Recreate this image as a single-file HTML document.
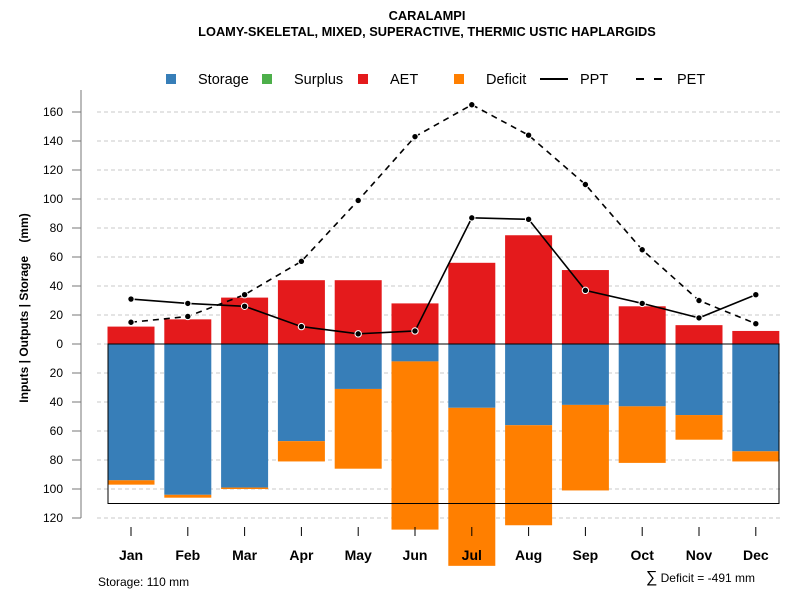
<!DOCTYPE html>
<html><head><meta charset="utf-8"><style>
body{margin:0;background:#fff}
svg{display:block;font-family:"Liberation Sans",Arial,sans-serif}
</style></head><body>
<svg id="c" width="800" height="600">
<text x="427" y="20" text-anchor="middle" font-size="12.8" font-weight="bold">CARALAMPI</text>
<text x="427" y="36" text-anchor="middle" font-size="12.8" font-weight="bold">LOAMY-SKELETAL, MIXED, SUPERACTIVE, THERMIC USTIC HAPLARGIDS</text>
<g id="legend" font-size="14.5">
<rect x="166" y="74" width="10" height="10" fill="#377eb8"/>
<text x="198" y="84">Storage</text>
<rect x="262" y="74" width="10" height="10" fill="#4daf4a"/>
<text x="294" y="84">Surplus</text>
<rect x="358" y="74" width="10" height="10" fill="#e41a1c"/>
<text x="390" y="84">AET</text>
<rect x="454" y="74" width="10" height="10" fill="#ff7f00"/>
<text x="486" y="84">Deficit</text>
<line x1="540" y1="79" x2="568" y2="79" stroke="#000" stroke-width="2"/>
<text x="580" y="84">PPT</text>
<line x1="636" y1="79" x2="662" y2="79" stroke="#000" stroke-width="2" stroke-dasharray="8,10"/>
<text x="677" y="84">PET</text>
</g>
<text transform="translate(28,308) rotate(-90)" text-anchor="middle" font-size="12" font-weight="bold">Inputs | Outputs | Storage &#160;&#160;&#160;(mm)</text>
<text x="98" y="586" font-size="12">Storage: 110 mm</text>
<text x="755" y="582" text-anchor="end" font-size="12"><tspan font-size="16">∑</tspan> Deficit = -491 mm</text>
</svg>
<script>
const months=["Jan","Feb","Mar","Apr","May","Jun","Jul","Aug","Sep","Oct","Nov","Dec"];
const aet=[12,17,32,44,44,28,56,75,51,26,13,9];
const storage=[94,104,99,67,31,12,44,56,42,43,49,74];
const deficit=[3,2,1,14,55,116,109,69,59,39,17,7];
const ppt=[31,28,26,12,7,9,87,86,37,28,18,34];
const pet=[15,19,34,57,99,143,165,144,110,65,30,14];
const yTicks=[160,140,120,100,80,60,40,20,0,20,40,60,80,100,120];
const yTickVals=[160,140,120,100,80,60,40,20,0,-20,-40,-60,-80,-100,-120];
const soilCapacity=110;
const NS="http://www.w3.org/2000/svg";
const svg=document.getElementById('c');
const y=v=>344-v*1.45;
const x=i=>131+i*56.8;
function mk(t,a,p){const e=document.createElementNS(NS,t);for(const k in a)e.setAttribute(k,a[k]);(p||svg).appendChild(e);return e;}
yTickVals.forEach((v,i)=>{
  const g=mk('line',{x1:97,x2:780,y1:y(v),y2:y(v),stroke:'#c8c8c8','stroke-dasharray':'4,3'});
  
  
  const t=mk('line',{x1:72,x2:81,y1:y(v),y2:y(v),stroke:'#777'});
  
  
  const l=mk('text',{x:63,y:y(v)+4,'text-anchor':'end','font-size':12});
  l.textContent=yTicks[i];
  
  
});
const ax=mk('line',{x1:81,x2:81,y1:90,y2:y(-120),stroke:'#777'});


const bw=47;
months.forEach((m,i)=>{
  const cx=x(i);
  const a=mk('rect',{x:cx-bw/2,y:y(aet[i]),width:bw,height:y(0)-y(aet[i]),fill:'#e41a1c'});
  
  
  const s=mk('rect',{x:cx-bw/2,y:y(0),width:bw,height:y(-storage[i])-y(0),fill:'#377eb8'});
  
  
  const d=mk('rect',{x:cx-bw/2,y:y(-storage[i]),width:bw,height:y(-storage[i]-deficit[i])-y(-storage[i]),fill:'#ff7f00'});
  
  
  const tk=mk('line',{x1:cx,x2:cx,y1:527,y2:536,stroke:'#000'});
  
  
  const tl=mk('text',{x:cx,y:560,'text-anchor':'middle','font-size':14,'font-weight':'bold'});
  tl.textContent=m;
  
  
});
const box=mk('rect',{x:108,y:y(0),width:671,height:y(-soilCapacity)-y(0),fill:'none',stroke:'#000'});


function series(vals,dash,name){
  const p=mk('polyline',{points:vals.map((v,i)=>x(i)+','+y(v)).join(' '),fill:'none',stroke:'#000','stroke-width':1.6,'stroke-dasharray':dash});
  
  
  vals.forEach((v,i)=>{
    const c=mk('circle',{cx:x(i),cy:y(v),r:3.2,fill:'#000',stroke:'#fff','stroke-width':1});
    
    
  });
}
series(pet,'6,5','pet');
series(ppt,'none','ppt');
</script>
</body></html>
